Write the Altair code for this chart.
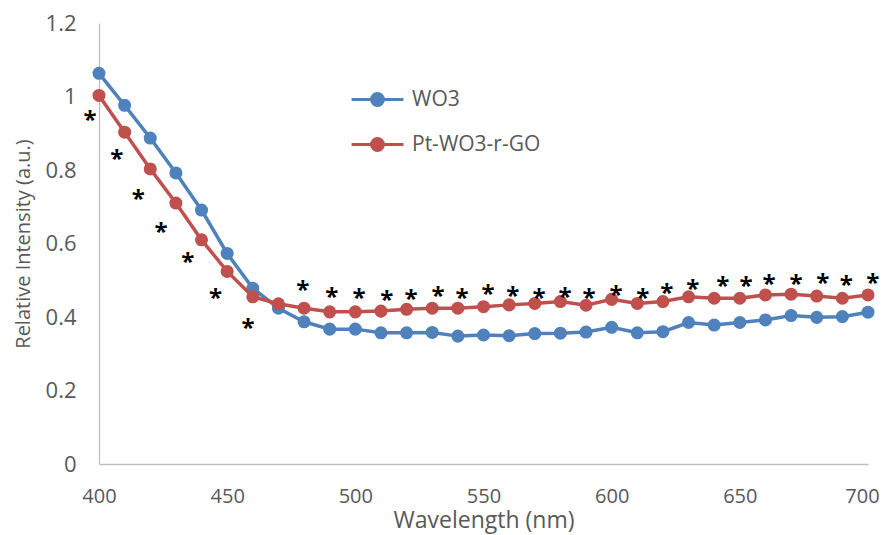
import altair as alt
import pandas as pd

wavelength = [400, 410, 420, 430, 440, 450, 460, 470, 480, 490, 500, 510, 520, 530, 540,
              550, 560, 570, 580, 590, 600, 610, 620, 630, 640, 650, 660, 670, 680, 690, 700]
wo3 = [1.063, 0.976, 0.887, 0.792, 0.691, 0.573, 0.478, 0.424, 0.387, 0.367, 0.367, 0.357,
       0.357, 0.358, 0.348, 0.351, 0.349, 0.355, 0.356, 0.359, 0.372, 0.357, 0.360, 0.385,
       0.378, 0.385, 0.392, 0.404, 0.399, 0.401, 0.413]
pt_wo3_rgo = [1.003, 0.903, 0.803, 0.710, 0.610, 0.524, 0.455, 0.436, 0.424, 0.414, 0.414,
              0.416, 0.421, 0.424, 0.424, 0.428, 0.433, 0.437, 0.442, 0.432, 0.448, 0.437,
              0.442, 0.455, 0.451, 0.451, 0.460, 0.462, 0.457, 0.451, 0.460]

series_names = ["WO3", "Pt-WO3-r-GO"]
series_colors = ["#4F81BD", "#C0504D"]

# asterisk annotations (glyph centres, in data units)
star_x = [396.5, 406.9, 415.3, 424.2, 434.6, 445.5, 458.1, 479.5, 490.8, 501.4, 512.3, 521.7,
          532.3, 541.6, 551.8, 561.4, 571.7, 581.8, 591.2, 601.7, 612.1, 621.5, 631.6, 643.3,
          652.4, 661.4, 671.9, 682.4, 691.5, 701.9]
star_y = [0.950, 0.844, 0.735, 0.646, 0.564, 0.466, 0.384, 0.487, 0.469, 0.466, 0.460, 0.462,
          0.472, 0.464, 0.475, 0.472, 0.464, 0.469, 0.466, 0.473, 0.464, 0.480, 0.489, 0.498,
          0.498, 0.503, 0.503, 0.507, 0.501, 0.505]

x_ticks = [400, 450, 500, 550, 600, 650, 700]
y_ticks = [0, 0.2, 0.4, 0.6, 0.8, 1, 1.2]

df_wo3 = pd.DataFrame({"wl": wavelength, "val": wo3, "series": series_names[0]})
df_pt = pd.DataFrame({"wl": wavelength, "val": pt_wo3_rgo, "series": series_names[1]})
df_star = pd.DataFrame({"x": star_x, "y": star_y, "t": "*"})

FONT = "Open Sans"
GREY = "#595959"

x_enc = alt.X("wl:Q", scale=alt.Scale(domain=[400, 700], nice=False, zero=False),
              axis=alt.Axis(values=x_ticks, title="Wavelength (nm)", ticks=False,
                            labelFlush=False, labelPadding=22, titlePadding=3,
                            labelOffset={"condition": {"test": "datum.value >= 700", "value": -6},
                                         "value": 0},
                            labelFontSize=20, titleFontSize=23))
y_enc = alt.Y("val:Q", scale=alt.Scale(domain=[0, 1.2], nice=False),
              axis=alt.Axis(values=y_ticks, title="Relative Intensity (a.u.)", format="~g",
                            ticks=False, labelFlush=False, labelPadding=23, titlePadding=12,
                            titleFontSize=20))

legend_path = "M-3.7,0L3.7,0M0.85,0A0.85,0.85,0,1,1,-0.85,0A0.85,0.85,0,1,1,0.85,0"

def make_legend():
    return alt.Legend(
        title=None, orient="none", legendX=268, legendY=66,
        symbolType=legend_path, symbolSize=196, symbolStrokeWidth=3,
        labelOffset=24, rowPadding=20, labelFontSize=21, labelFont=FONT,
        labelColor=GREY, symbolOpacity=1,
    )

stroke_enc = alt.Stroke("series:N", scale=alt.Scale(domain=series_names, range=series_colors),
                        legend=make_legend())
fill_enc = alt.Fill("series:N", scale=alt.Scale(domain=series_names, range=series_colors),
                    legend=make_legend())

def series_layers(df):
    base = alt.Chart(df).encode(x=x_enc, y=y_enc)
    line = base.mark_line(strokeWidth=3.5).encode(stroke=stroke_enc)
    pts = base.mark_point(filled=True, size=170, opacity=1, shape="circle").encode(fill=fill_enc)
    return [line, pts]

stars = alt.Chart(df_star).mark_text(
    fontSize=24, font=FONT, fontWeight="bold", color="black", baseline="middle", dy=6
).encode(
    x=alt.X("x:Q", scale=alt.Scale(domain=[400, 700], nice=False, zero=False)),
    y=alt.Y("y:Q", scale=alt.Scale(domain=[0, 1.2], nice=False)),
    text="t:N",
)

chart = alt.layer(
    *series_layers(df_wo3), *series_layers(df_pt), stars
).properties(
    width=769, height=441,
    autosize=alt.AutoSizeParams(type="none"),
    padding={"left": 91, "top": 15, "right": 12, "bottom": 70},
).configure_view(stroke=None).configure_axis(
    grid=False, domainColor="#BFBFBF", domainWidth=1.3,
    labelFont=FONT, labelFontSize=22, labelColor=GREY,
    titleFont=FONT, titleColor=GREY, titleFontWeight="normal",
)

chart.save("out.html", embed_options={"renderer": "svg", "actions": False})
